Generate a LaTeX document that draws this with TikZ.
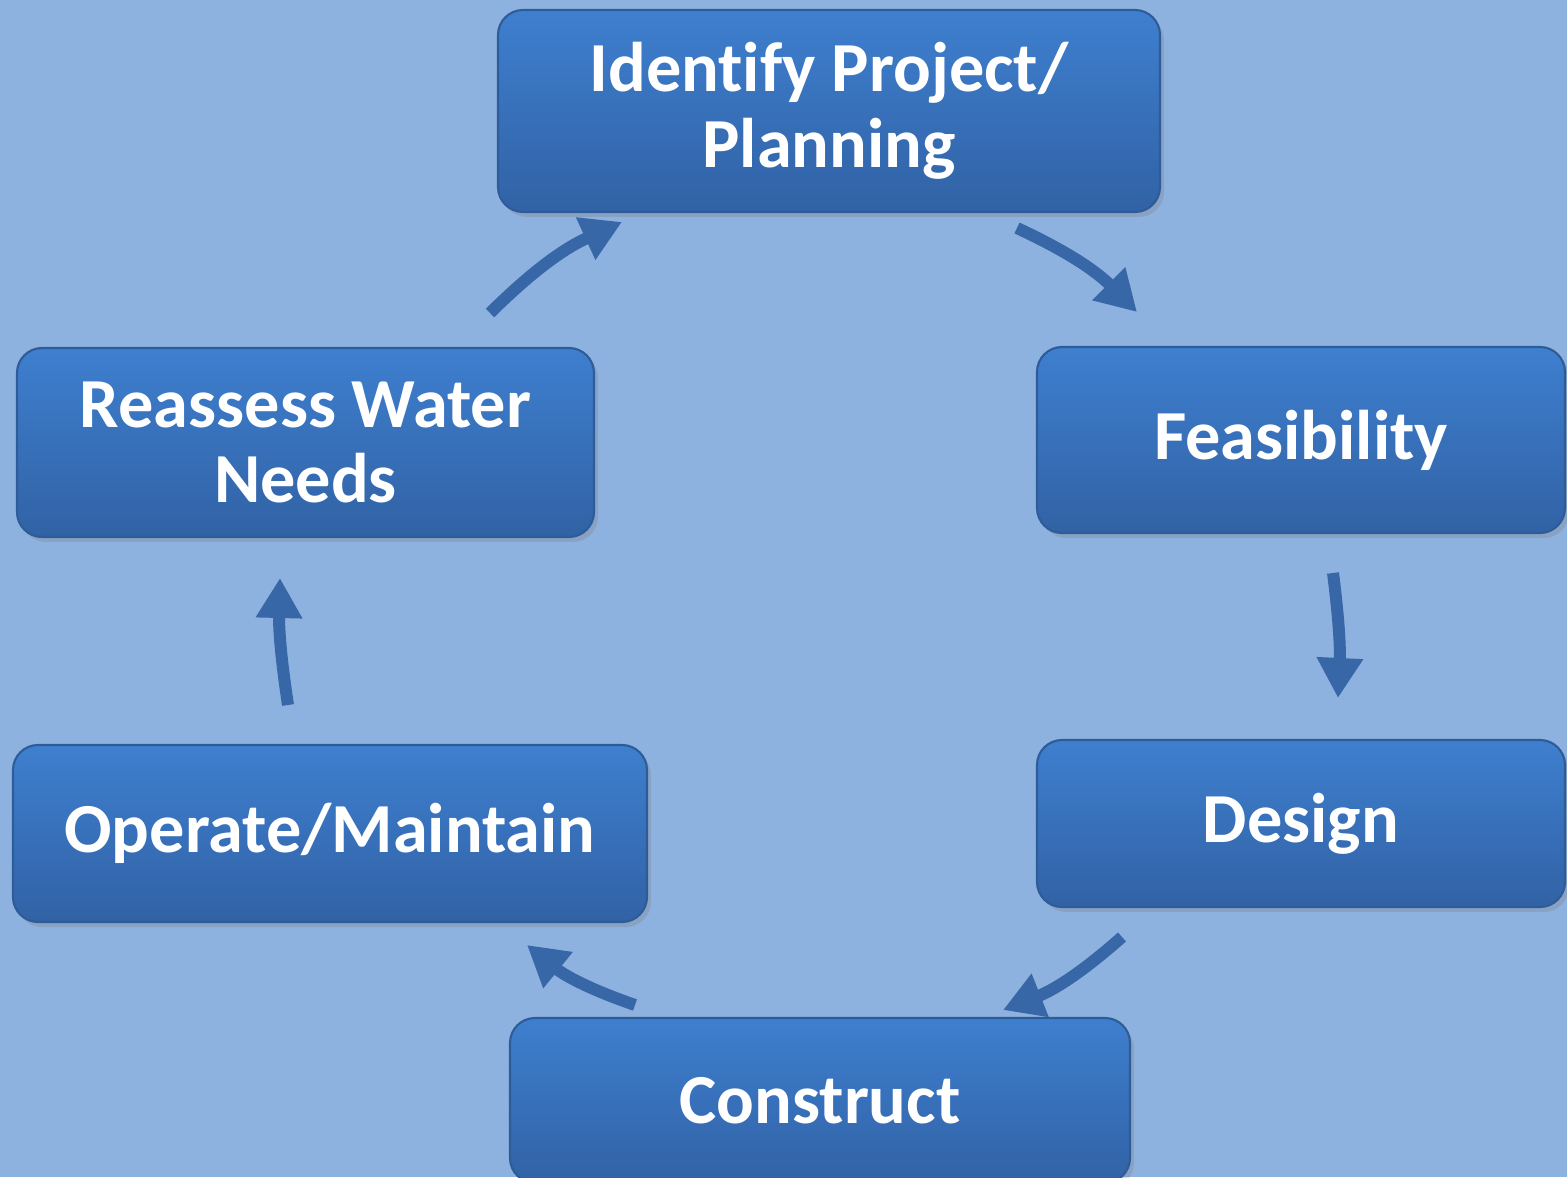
\documentclass[tikz,border=0pt]{standalone}
\usepackage{fontspec}
\setmainfont{Carlito}[Ligatures=NoCommon]
\usetikzlibrary{arrows.meta,shadows}
\definecolor{bgblue}{HTML}{8EB2E0}
\definecolor{boxtop}{HTML}{3E7FCF}
\definecolor{boxbot}{HTML}{3162A5}
\definecolor{boxline}{HTML}{2E5C98}
\definecolor{arrowblue}{HTML}{3767A6}
\tikzset{
	stage/.style={draw=boxline, line width=0.6pt, rounded corners=0.25cm, top color=boxtop, bottom color=boxbot,
		drop shadow={opacity=0.3, shadow xshift=0.04cm, shadow yshift=-0.05cm},
		text=white, align=center, font=\fontsize{20}{21.5}\selectfont\bfseries, inner sep=0pt},
	cyclearrow/.style={draw=arrowblue, line width=0.12cm, -{Triangle[length=0.4cm, width=0.44cm]}, bend left=10}
}
\begin{document}
\begin{tikzpicture}
	\fill[bgblue] (0, 0) rectangle (15.67, 11.77);
	\useasboundingbox (0, 0) rectangle (15.67, 11.77);
	% stages
	\node[stage, minimum width=6.62cm, minimum height=2.02cm] (plan) at (8.29, 10.66) {Identify Project/\\Planning};
	\node[stage, minimum width=5.28cm, minimum height=1.86cm] (feas) at (13.01, 7.37) {Feasibility};
	\node[stage, minimum width=5.28cm, minimum height=1.67cm] (design) at (13.01, 3.535) {Design};
	\node[stage, minimum width=6.20cm, minimum height=1.65cm] (build) at (8.20, 0.765) {Construct};
	\node[stage, minimum width=6.34cm, minimum height=1.77cm] (operate) at (3.30, 3.435) {Operate/Maintain};
	\node[stage, minimum width=5.77cm, minimum height=1.89cm] (reassess) at (3.055, 7.345) {Reassess Water\\Needs};
	% arrow ends
	\coordinate (a1) at (10.17, 9.49);
	\coordinate (b1) at (11.37, 8.65);
	\coordinate (a2) at (13.33, 6.04);
	\coordinate (b2) at (13.38, 4.79);
	\coordinate (a3) at (11.22, 2.40);
	\coordinate (b3) at (10.03, 1.67);
	\coordinate (a4) at (6.35, 1.72);
	\coordinate (b4) at (5.27, 2.32);
	\coordinate (a5) at (2.88, 4.72);
	\coordinate (b5) at (2.80, 5.99);
	\coordinate (a6) at (4.90, 8.64);
	\coordinate (b6) at (6.22, 9.55);
	\draw[cyclearrow] (a1) to (b1);
	\draw[cyclearrow, bend left=5] (a2) to (b2);
	\draw[cyclearrow] (a3) to (b3);
	\draw[cyclearrow] (a4) to (b4);
	\draw[cyclearrow, bend left=5] (a5) to (b5);
	\draw[cyclearrow] (a6) to (b6);
\end{tikzpicture}
\end{document}
